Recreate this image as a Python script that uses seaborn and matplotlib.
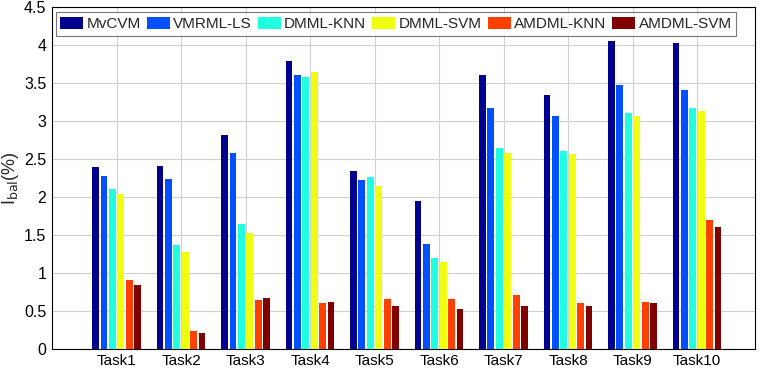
import numpy as np
import pandas as pd
import matplotlib
matplotlib.use('Agg')
import matplotlib.pyplot as plt
import seaborn as sns
from matplotlib.ticker import MultipleLocator, FormatStrFormatter

# ================================================================
# Data
# ================================================================
tasks = ['Task1', 'Task2', 'Task3', 'Task4', 'Task5',
         'Task6', 'Task7', 'Task8', 'Task9', 'Task10']
methods = ['MvCVM', 'VMRML-LS', 'DMML-KNN', 'DMML-SVM', 'AMDML-KNN', 'AMDML-SVM']

mvcvm = [2.40, 2.41, 2.82, 3.79, 2.34, 1.94, 3.61, 3.34, 4.05, 4.02]
vmrml_ls = [2.27, 2.23, 2.58, 3.60, 2.22, 1.38, 3.17, 3.07, 3.47, 3.41]
dmml_knn = [2.10, 1.37, 1.65, 3.58, 2.26, 1.19, 2.65, 2.61, 3.10, 3.17]
dmml_svm = [2.04, 1.28, 1.53, 3.65, 2.14, 1.14, 2.58, 2.57, 3.07, 3.13]
amdml_knn = [0.91, 0.24, 0.64, 0.61, 0.66, 0.65, 0.71, 0.60, 0.62, 1.69]
amdml_svm = [0.84, 0.21, 0.67, 0.62, 0.56, 0.53, 0.57, 0.56, 0.60, 1.61]

colors = ['#00008F', '#0050FF', '#20FFDF', '#F0FF0F', '#FF4000', '#800000']

series = [mvcvm, vmrml_ls, dmml_knn, dmml_svm, amdml_knn, amdml_svm]
df = pd.DataFrame({
    'task': np.tile(tasks, len(methods)),
    'method': np.repeat(methods, len(tasks)),
    'value': np.concatenate(series),
})

# ================================================================
# Plot
# ================================================================
sns.set_style('white')
plt.rcParams['font.family'] = ['Liberation Sans', 'DejaVu Sans']

fig = plt.figure(figsize=(7.65, 3.68), dpi=100)
ax = fig.add_axes([0.068, 0.052, 0.919, 0.929])

sns.barplot(data=df, x='task', y='value', hue='method', order=tasks,
            hue_order=methods, palette=colors, saturation=1, width=0.78,
            gap=0.18, edgecolor='none', ax=ax, zorder=3)

ax.set_xlim(-1, 9.9)
ax.set_ylim(0, 4.5)
ax.yaxis.set_major_locator(MultipleLocator(0.5))
ax.yaxis.set_major_formatter(FormatStrFormatter('%g'))
ax.grid(True, color='#d0d0d0', linewidth=0.8, zorder=0)
ax.set_axisbelow(True)
ax.set_xlabel('')
ax.set_ylabel(r'I$_{\mathrm{bal}}$(%)', fontsize=13, labelpad=2)
ax.tick_params(axis='both', direction='in', length=3, labelsize=11.5,
               colors='black', pad=4)
ax.tick_params(axis='x', labelsize=11)
for sp in ax.spines.values():
    sp.set_visible(True)
    sp.set_color('black')
    sp.set_linewidth(0.8)

leg = ax.legend(loc='upper left', bbox_to_anchor=(0.005, 0.985), ncol=6,
                fontsize=11, frameon=True, fancybox=False, edgecolor='#555555',
                handlelength=1.5, handleheight=0.85, handletextpad=0.22,
                columnspacing=0.4, borderpad=0.3, borderaxespad=0)
leg.get_frame().set_linewidth(0.8)

fig.savefig('out.png', dpi=100)
